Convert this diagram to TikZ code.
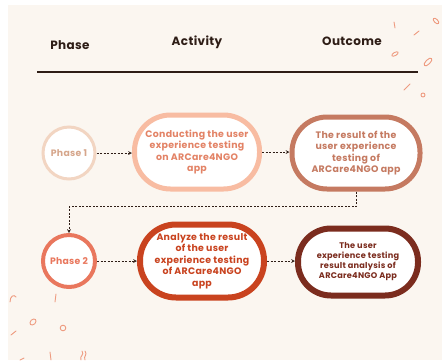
\documentclass[tikz,border=0pt]{standalone}
\usepackage{fontspec}
\setmainfont{Poppins}
\newfontfamily\headfont{Poppins}[LetterSpace=3]
\newfontfamily\boxfont{Poppins}[LetterSpace=3]

\definecolor{bgcol}{HTML}{FBF6F0}
\definecolor{inkcol}{HTML}{2E1D16}
\definecolor{phaseone}{HTML}{F2D5C2}
\definecolor{phaseonetext}{HTML}{D6A68B}
\definecolor{actone}{HTML}{F8BCA2}
\definecolor{actonetext}{HTML}{E38366}
\definecolor{outone}{HTML}{C57A61}
\definecolor{phasetwo}{HTML}{E9775D}
\definecolor{acttwo}{HTML}{C9431F}
\definecolor{outtwo}{HTML}{7B2C1E}
\definecolor{confetti}{HTML}{EE9B80}

\begin{document}
\begin{tikzpicture}
[x=1pt,y=-1pt,>=stealth,
phase/.style={draw,circle,fill=white,minimum size=52pt,inner sep=0pt,font=\boxfont\fontsize{9.3}{11}\selectfont\bfseries},
stage/.style={draw,rectangle,rounded corners=36pt,fill=white,minimum width=125pt,minimum height=74pt,inner sep=0pt,align=center,font=\boxfont\fontsize{9.4}{11.5}\selectfont\bfseries},
link/.style={->,dash pattern=on 2pt off 1.5pt,line width=0.7pt,draw=inkcol},
bit/.style={draw=confetti,line width=0.9pt,line cap=round},]

%Page and background
\fill[white] (0,0) rectangle (442,360);
\fill[bgcol] (8,5) rectangle (442,360);
\useasboundingbox (0,0) rectangle (442,360);

%Column headings
\node (hPhase) at (70,45) {\headfont\fontsize{12}{14}\selectfont\bfseries\color{inkcol}Phase};
\node (hActivity) at (197,42) {\headfont\fontsize{12}{14}\selectfont\bfseries\color{inkcol}Activity};
\node (hOutcome) at (352,41) {\headfont\fontsize{12}{14}\selectfont\bfseries\color{inkcol}Outcome};
\draw[line width=2pt,inkcol] (37,72) -- (418,72);

%Phase 1 row
\node (P1) at (69,153)[phase,draw=phaseone,text=phaseonetext,line width=3pt] {Phase 1};
\node (A1) at (197,152)[stage,draw=actone,text=actonetext,line width=5pt] {Conducting the user\\experience testing\\on ARCare4NGO\\app};
\node (O1) at (356,153)[stage,draw=outone,text=outone,line width=5pt,minimum width=128pt,minimum height=72pt,rounded corners=35pt] {The result of the\\user experience\\testing of\\ARCare4NGO app};

%Phase 2 row
\node (P2) at (69,261)[phase,draw=phasetwo,text=phasetwo,line width=4pt] {Phase 2};
\node (A2) at (202,261)[stage,draw=acttwo,text=acttwo,line width=6pt,minimum width=124pt,minimum height=73pt] {Analyze the result\\of the user\\experience testing\\of ARCare4NGO\\app};
\node (O2) at (358,262)[stage,draw=outtwo,text=outtwo,line width=6pt,minimum width=120pt,minimum height=67pt,rounded corners=33pt,font=\boxfont\fontsize{8.2}{10}\selectfont\bfseries] {The user\\experience testing\\result analysis of\\ARCare4NGO App};

%Joining the steps
\draw[link] (P1.east) -- (P1.east -| A1.west);
\draw[link] (A1.east) -- (A1.east -| O1.west);
\draw[link] (O1.south) -- ++(0,15) -| (P2.north);
\draw[link] (P2.east) -- (P2.east -| A2.west);
\draw[link] (A2.east) -- (A2.east -| O2.west);

%Confetti top right
\draw[bit] (394,22) -- (395,28);
\draw[bit] (414,35) -- (419,31);
\draw[bit,rotate around={-45:(436,21)}] (436,21) ellipse (3.5 and 1.8);
\draw[bit,rotate around={30:(395,54)}] (395,54) ellipse (3.5 and 1.6);
\draw[bit,rotate around={45:(428,62)}] (428,62) ellipse (5 and 2.2);
\draw[bit] (404,90) -- (410,84);
\draw[bit] (423,95) circle (2);

%Confetti bottom left
\draw[bit] (10,302) .. controls (10,296) and (14,294) .. (16,297);
\draw[bit] (56,294) -- (55,302);
\draw[bit,rotate around={45:(33,322)}] (33,322) ellipse (3.5 and 2.5);
\draw[bit] (63,328) circle (2.8);
\draw[bit] (11,335) -- (16,331);
\draw[bit] (50,352) -- (51,360);
\draw[bit] (81,360) .. controls (79,356) and (85,355) .. (82,351);
\draw[bit] (85,360) .. controls (83,356) and (88,355) .. (85,351);
\draw[bit] (20,360) -- (24,358);

\end{tikzpicture}
\end{document}
